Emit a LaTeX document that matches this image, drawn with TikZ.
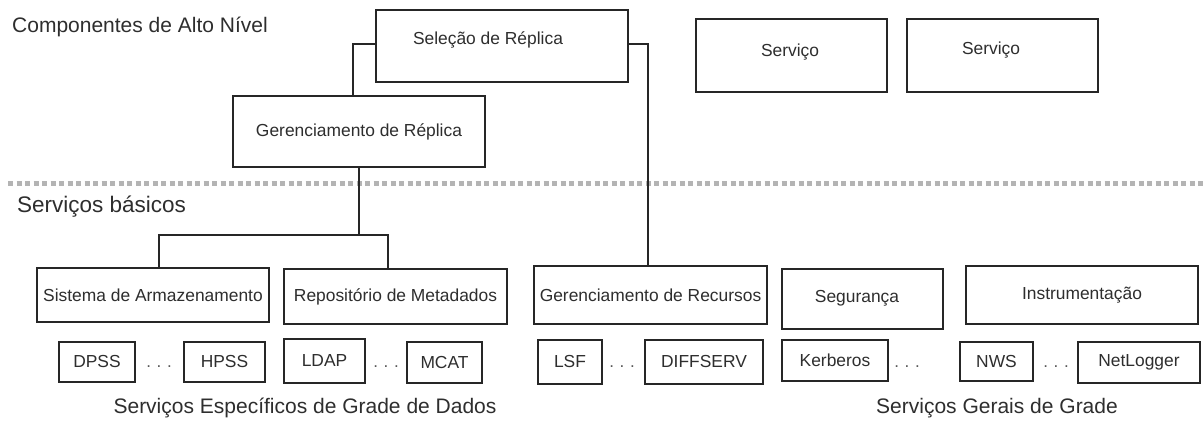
\documentclass[tikz,border=0pt]{standalone}
\usepackage{fontspec}
\setmainfont{Liberation Sans}
\definecolor{ink}{HTML}{2E2E2E}
\definecolor{edge}{HTML}{262626}
\definecolor{sep}{HTML}{B4B4B4}
\begin{document}
\begin{tikzpicture}[x=1pt,y=-1pt,
  box/.style={draw=edge, line width=1.8pt, inner sep=0pt, text=ink, font=\fontsize{17.4}{20}\selectfont},
  txt/.style={inner sep=0pt, text=ink, font=\fontsize{17.4}{20}\selectfont},
  section/.style={inner sep=0pt, text=ink, font=\fontsize{21}{24}\selectfont},
  dots/.style={inner sep=0pt, text=ink!80, anchor=base, font=\fontsize{17}{20}\selectfont},
  wire/.style={draw=edge, line width=1.5pt}]
\useasboundingbox (0,0) rectangle (1204,423);
\fill[white] (0,0) rectangle (1204,423);

% section labels
\node[section, anchor=west] (lblalto) at (12,27) {Componentes de Alto Nível};
\node[section, anchor=west, font=\fontsize{22.5}{26}\selectfont] (lblbas) at (17,207) {Serviços básicos};
\node[section] (lblesp) at (305,408) {Serviços Específicos de Grade de Dados};
\node[section] (lblger) at (997,408) {Serviços Gerais de Grade};

% separator
\draw[sep, line width=5pt, dash pattern=on 5pt off 3.5pt] (8,183) -- (1204,183);

% high-level components
\node[box, minimum width=252pt, minimum height=72pt] (sel) at (502,46) {};
\node[txt] (selt) at (488,40) {Seleção de Réplica};
\node[box, minimum width=252pt, minimum height=71pt] (grep) at (359,131.5) {Gerenciamento de Réplica};
\node[box, minimum width=191pt, minimum height=73pt] (serv1) at (791.5,55.5) {};
\node[txt] (serv1t) at (790,52) {Serviço};
\node[box, minimum width=191pt, minimum height=73pt] (serv2) at (1002.5,55.5) {};
\node[txt] (serv2t) at (991,50) {Serviço};

% basic services
\node[box, minimum width=232pt, minimum height=54pt] (sist) at (153,295) {Sistema de Armazenamento};
\node[box, minimum width=223pt, minimum height=55pt] (repo) at (395.5,296.5) {Repositório de Metadados};
\node[box, minimum width=233pt, minimum height=58pt] (grec) at (650.5,295) {Gerenciamento de Recursos};
\node[box, minimum width=161pt, minimum height=60pt] (seg) at (862.5,299) {};
\node[txt] (segt) at (857,298) {Segurança};
\node[box, minimum width=232pt, minimum height=58pt] (inst) at (1082,295) {Instrumentação};

% concrete services
\node[box, minimum width=76pt, minimum height=40pt] (dpss) at (97,362) {DPSS};
\node[dots] (d1) at (159,367) {.\,\,.\,\,.};
\node[box, minimum width=81pt, minimum height=40pt] (hpss) at (224.5,362) {HPSS};
\node[box, minimum width=81pt, minimum height=44pt] (ldap) at (324.5,361) {LDAP};
\node[dots] (d2) at (386,367) {.\,\,.\,\,.};
\node[box, minimum width=75pt, minimum height=41pt] (mcat) at (444.5,362.5) {MCAT};
\node[box, minimum width=64pt, minimum height=44pt] (lsf) at (570,362) {LSF};
\node[dots] (d3) at (622,367) {.\,\,.\,\,.};
\node[box, minimum width=118pt, minimum height=44pt] (diff) at (704,362) {DIFFSERV};
\node[box, minimum width=106pt, minimum height=41pt] (kerb) at (835,360.5) {Kerberos};
\node[dots] (d4) at (907,367) {.\,\,.\,\,.};
\node[box, minimum width=73pt, minimum height=39pt] (nws) at (996.5,361.5) {NWS};
\node[dots] (d5) at (1056,367) {.\,\,.\,\,.};
\node[box, minimum width=122pt, minimum height=41pt] (netl) at (1139,362.5) {NetLogger};

% connectors
\draw[wire] ([xshift=-6pt]grep.north) |- ([yshift=2pt]sel.west);
\draw[wire] ([yshift=2pt]sel.east) -| ([xshift=-2.5pt]grec.north);
\draw[wire] (grep.south) -- ++(0,67) coordinate (j);
\draw[wire] ([xshift=6pt]sist.north) |- (j) -| ([xshift=-7.5pt]repo.north);
\end{tikzpicture}
\end{document}
